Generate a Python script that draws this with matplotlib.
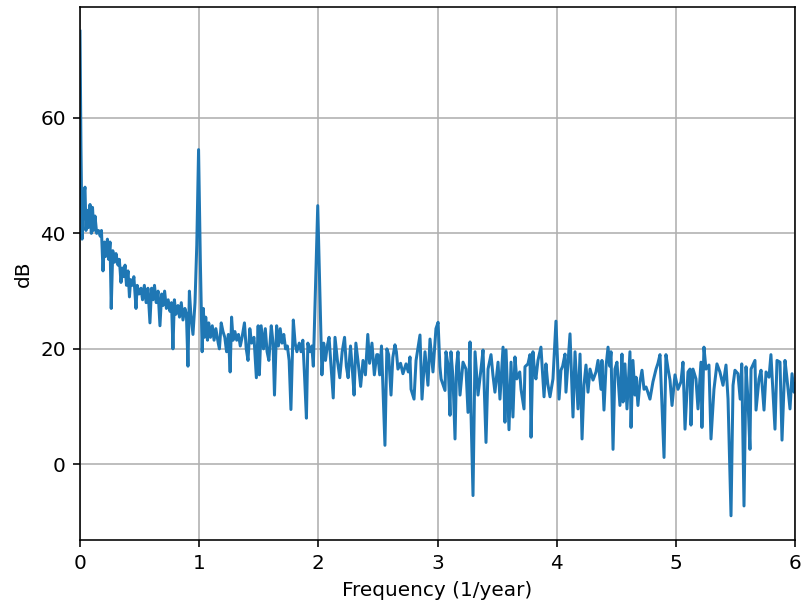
import numpy as np
import matplotlib
matplotlib.use("Agg")
import matplotlib.pyplot as plt

# valores (frequencia em 1/ano, potencia em dB)
freq_0_1 = [0.000, 0.008, 0.017, 0.030, 0.042, 0.050, 0.060, 0.070, 0.084, 0.095,
            0.105, 0.115, 0.126, 0.140, 0.155, 0.170, 0.180, 0.193, 0.205, 0.215,
            0.230, 0.240, 0.252, 0.262, 0.275, 0.290, 0.302, 0.319, 0.330, 0.344,
            0.355, 0.365, 0.378, 0.390, 0.403, 0.415, 0.425, 0.440, 0.452, 0.470,
            0.480, 0.495, 0.512, 0.525, 0.540, 0.555, 0.570, 0.587, 0.600, 0.613,
            0.625, 0.640, 0.655, 0.671, 0.685, 0.696, 0.710, 0.725, 0.740, 0.755,
            0.768, 0.780, 0.792, 0.805, 0.822, 0.835, 0.850, 0.864, 0.880, 0.893,
            0.906, 0.918, 0.930, 0.948, 0.965, 0.980, 0.995]
db_0_1 = [75.0, 55.0, 39.0, 46.5, 48.0, 40.5, 44.0, 41.0, 45.0, 40.0,
          44.5, 40.5, 43.0, 40.0, 40.5, 39.5, 40.5, 33.5, 38.5, 36.0,
          39.0, 35.5, 38.5, 27.0, 37.0, 35.0, 36.5, 34.5, 35.5, 31.5,
          34.0, 32.5, 34.5, 31.0, 33.5, 29.0, 32.0, 31.0, 32.5, 27.0,
          31.0, 29.5, 30.5, 28.5, 31.0, 28.0, 30.5, 24.5, 30.5, 28.5,
          31.0, 28.0, 30.0, 24.0, 29.5, 27.5, 30.0, 27.0, 28.5, 26.5,
          28.0, 20.0, 28.5, 26.0, 27.5, 25.5, 28.0, 25.0, 27.0, 26.0,
          17.0, 30.0, 26.0, 22.5, 28.0, 38.0, 54.5]

freq_1_2 = [1.010, 1.025, 1.035, 1.045, 1.055, 1.070, 1.080, 1.095, 1.110, 1.125,
            1.140, 1.160, 1.170, 1.185, 1.200, 1.215, 1.230, 1.245, 1.260, 1.272,
            1.285, 1.300, 1.315, 1.330, 1.345, 1.360, 1.380, 1.395, 1.410, 1.425,
            1.440, 1.460, 1.480, 1.495, 1.505, 1.520, 1.540, 1.555, 1.570, 1.585,
            1.605, 1.620, 1.632, 1.650, 1.665, 1.680, 1.695, 1.710, 1.725, 1.740,
            1.755, 1.770, 1.790, 1.805, 1.820, 1.840, 1.855, 1.870, 1.885, 1.900,
            1.912, 1.930, 1.945, 1.958, 1.975, 1.995]
db_1_2 = [35.0, 19.5, 27.0, 22.0, 25.5, 21.5, 24.5, 22.0, 24.0, 21.5,
          23.5, 21.0, 20.0, 24.5, 23.0, 22.0, 19.5, 22.5, 16.0, 25.5,
          21.5, 23.0, 21.5, 22.5, 20.5, 22.0, 24.5, 20.0, 18.0, 23.5,
          21.0, 22.0, 15.0, 24.0, 15.5, 24.0, 20.0, 23.5, 19.5, 18.0,
          24.0, 21.0, 12.0, 24.0, 20.5, 23.5, 21.0, 22.5, 20.0, 20.5,
          18.0, 9.5, 25.0, 21.0, 19.5, 21.0, 19.5, 21.5, 15.0, 8.0,
          21.0, 19.5, 20.5, 17.0, 30.0, 44.8]

freq_2_3 = [2.015, 2.030, 2.045, 2.060, 2.075, 2.090, 2.105, 2.125, 2.140, 2.160,
            2.180, 2.200, 2.220, 2.235, 2.250, 2.270, 2.285, 2.300, 2.315, 2.335,
            2.355, 2.375, 2.395, 2.415, 2.430, 2.450, 2.470, 2.490, 2.500, 2.515,
            2.530, 2.559, 2.575, 2.590, 2.610, 2.625, 2.643, 2.655, 2.668, 2.690,
            2.710, 2.736, 2.755, 2.769, 2.778, 2.803, 2.820, 2.853, 2.870, 2.895,
            2.920, 2.937, 2.962, 2.987, 3.005]
db_2_3 = [28.0, 15.5, 21.0, 18.0, 20.5, 22.0, 17.5, 11.5, 22.0, 18.0,
          15.0, 19.5, 22.0, 17.0, 15.0, 20.5, 16.5, 12.0, 21.0, 17.5,
          13.5, 18.0, 15.5, 22.5, 17.5, 21.0, 15.5, 19.0, 19.0, 15.5,
          20.5, 3.3, 20.0, 19.0, 12.0, 18.5, 20.7, 19.5, 16.5, 17.5,
          15.7, 17.4, 16.0, 18.6, 13.0, 11.3, 18.0, 22.4, 11.3, 19.5,
          13.7, 21.7, 16.0, 23.5, 24.6]

freq_3_4 = [3.020, 3.030, 3.063, 3.071, 3.090, 3.105, 3.113, 3.130, 3.147, 3.160,
            3.172, 3.189, 3.214, 3.239, 3.256, 3.273, 3.281, 3.298, 3.315, 3.330,
            3.340, 3.365, 3.382, 3.407, 3.424, 3.449, 3.465, 3.482, 3.508, 3.524,
            3.550, 3.566, 3.575, 3.600, 3.617, 3.633, 3.650, 3.665, 3.690, 3.701,
            3.726, 3.734, 3.759, 3.776, 3.785, 3.801, 3.815, 3.826, 3.843, 3.868,
            3.894, 3.910, 3.925, 3.944, 3.969, 3.994]
db_3_4 = [17.0, 14.8, 12.8, 19.5, 17.0, 8.5, 19.5, 15.0, 4.4, 17.0,
          19.5, 12.0, 17.7, 16.5, 9.0, 21.2, 9.0, -5.4, 19.5, 15.0,
          12.0, 16.5, 19.8, 3.8, 16.5, 19.0, 15.5, 12.5, 17.7, 11.3,
          20.3, 7.3, 19.8, 6.0, 17.7, 8.2, 18.6, 14.8, 16.0, 13.0,
          9.6, 16.9, 17.4, 19.0, 4.7, 19.5, 16.0, 14.8, 18.0, 20.3,
          11.7, 17.4, 14.0, 11.7, 14.8, 24.8]

freq_4_5 = [4.020, 4.036, 4.050, 4.070, 4.078, 4.112, 4.137, 4.154, 4.179, 4.196,
            4.213, 4.229, 4.246, 4.263, 4.280, 4.305, 4.330, 4.347, 4.372, 4.380,
            4.397, 4.414, 4.431, 4.445, 4.456, 4.473, 4.489, 4.506, 4.531, 4.548,
            4.557, 4.573, 4.590, 4.615, 4.624, 4.640, 4.657, 4.666, 4.682, 4.699,
            4.716, 4.733, 4.750, 4.765, 4.783, 4.808, 4.834, 4.850, 4.867, 4.876,
            4.901, 4.917, 4.935, 4.951, 4.968, 4.993]
db_4_5 = [11.3, 16.3, 17.0, 19.1, 12.5, 22.6, 8.2, 19.5, 9.6, 19.1,
          4.4, 13.7, 17.2, 12.5, 16.5, 14.6, 16.0, 18.0, 13.0, 18.0,
          9.4, 16.9, 20.3, 17.0, 19.5, 2.6, 16.5, 17.7, 10.2, 19.1,
          10.8, 17.4, 9.6, 19.5, 6.4, 18.0, 12.0, 15.1, 10.2, 14.3,
          16.3, 13.0, 13.4, 12.5, 11.3, 14.3, 16.5, 17.5, 19.0, 14.3,
          1.2, 19.0, 16.5, 14.6, 10.2, 15.5]

freq_5_6 = [5.018, 5.043, 5.060, 5.077, 5.102, 5.119, 5.127, 5.144, 5.169, 5.186,
            5.211, 5.219, 5.236, 5.253, 5.278, 5.295, 5.320, 5.345, 5.370, 5.396,
            5.421, 5.438, 5.463, 5.480, 5.496, 5.521, 5.540, 5.553, 5.572, 5.589,
            5.605, 5.622, 5.631, 5.664, 5.673, 5.698, 5.715, 5.740, 5.757, 5.782,
            5.798, 5.815, 5.832, 5.849, 5.874, 5.891, 5.916, 5.933, 5.958, 5.975,
            5.992, 6.000]
db_5_6 = [13.0, 14.3, 17.7, 6.1, 16.0, 16.5, 6.8, 16.5, 14.8, 9.6,
          17.7, 6.4, 20.3, 16.5, 17.2, 4.4, 13.0, 17.4, 16.0, 13.7,
          17.2, 11.3, -8.9, 13.7, 16.3, 15.7, 11.3, 17.4, -7.2, 16.9,
          11.3, 2.6, 16.5, 18.0, 9.4, 14.8, 16.3, 9.4, 16.0, 15.1,
          19.0, 12.5, 6.1, 18.0, 17.7, 4.2, 18.0, 14.8, 9.6, 15.7,
          12.5, 14.0]

freq = np.array(freq_0_1 + freq_1_2 + freq_2_3 + freq_3_4 + freq_4_5 + freq_5_6)
db = np.array(db_0_1 + db_1_2 + db_2_3 + db_3_4 + db_4_5 + db_5_6)

DPI = 144
fig = plt.figure(figsize=(801 / DPI, 603 / DPI), dpi=DPI)
ax = fig.add_axes([80 / 801, 63 / 603, 715 / 801, 533 / 603])
ax.plot(freq, db)
ax.set_xlim(0, 6)
ax.set_xlabel("Frequency (1/year)")
ax.set_ylabel("dB")
ax.grid(True)
fig.savefig("out.png", dpi=DPI)
plt.close(fig)
